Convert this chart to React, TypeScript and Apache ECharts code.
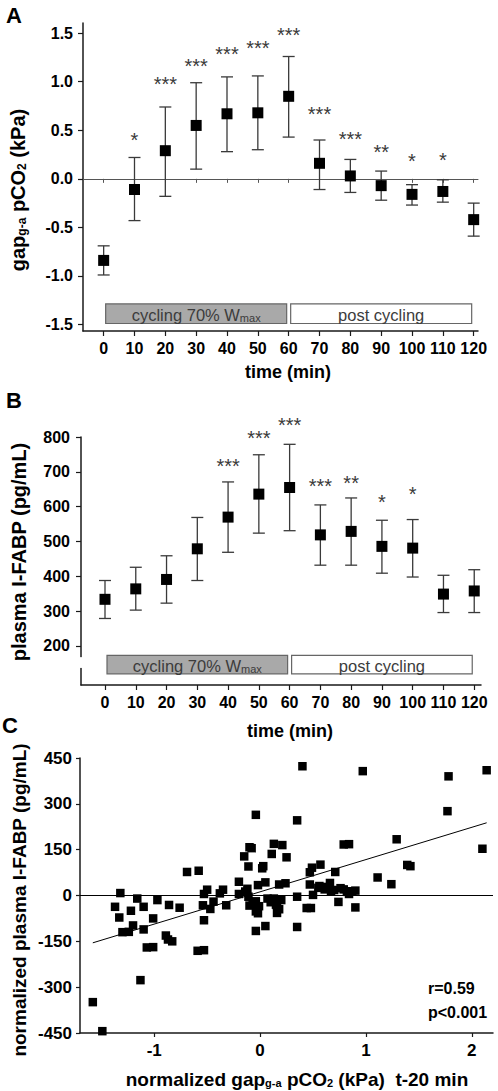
import React, { useEffect, useRef } from 'react';
import * as echarts from 'echarts';

const FONT = '"Liberation Sans", Arial, Helvetica, sans-serif';

// ---------- shared time axis ----------
const times = [0, 10, 20, 30, 40, 50, 60, 70, 80, 90, 100, 110, 120];

// ---------- panel A: gap g-a pCO2 (kPa) ----------
const gapMean = [-0.84, -0.11, 0.29, 0.55, 0.67, 0.68, 0.85, 0.16, 0.03, -0.07, -0.16, -0.13, -0.42];
const gapLow = [-0.99, -0.43, -0.18, 0.1, 0.28, 0.3, 0.43, -0.11, -0.14, -0.22, -0.27, -0.24, -0.59];
const gapHigh = [-0.69, 0.22, 0.74, 0.99, 1.05, 1.06, 1.26, 0.4, 0.2, 0.08, -0.06, -0.01, -0.25];
const gapStars = ['', '*', '***', '***', '***', '***', '***', '***', '***', '**', '*', '*', ''];
const gapStarLevel = [0, 0.44, 1.02, 1.2, 1.33, 1.39, 1.52, 0.71, 0.45, 0.32, 0.23, 0.24, 0];
const gapTicks = [-1.5, -1.0, -0.5, 0, 0.5, 1.0, 1.5];

// ---------- panel B: plasma I-FABP (pg/mL) ----------
const fabpMean = [334, 364, 391, 479, 570, 636, 655, 519, 529, 486, 481, 349, 358];
const fabpLow = [279, 303, 323, 388, 469, 524, 531, 432, 432, 409, 398, 296, 296];
const fabpHigh = [388, 426, 459, 569, 671, 749, 779, 605, 625, 561, 563, 403, 419];
const fabpStars = ['', '', '', '', '***', '***', '***', '***', '**', '*', '*', '', ''];
const fabpStarLevel = [0, 0, 0, 0, 728, 810, 846, 670, 680, 625, 647, 0, 0];
const fabpTicks = [200, 300, 400, 500, 600, 700, 800];
const fabpBreak = [137, 168];

// ---------- phases ----------
const phaseStart = [0, 60];
const phaseEnd = [60, 120];
const phaseLabels = ['{a|cycling 70% W}{b|max}', '{a|post cycling}'];
const phaseFills = ['#a9a9a9', '#ffffff'];

// ---------- panel C: scatter ----------
const scatterX = [
  -1.58, -1.49, -1.32, -1.37, -1.33, -1.3, -1.24, -1.22, -1.2, -1.16, -1.1, -1.1, -1.13, -1.07, -1.01, -1.01,
  -0.97, -0.89, -0.86, -0.87, -0.83, -0.76, -0.69, -0.58, -0.59, -0.53, -0.53, -0.5, -0.54, -0.53, -0.47, -0.44,
  -0.38, -0.35, -0.32, -0.2, -0.2, -0.15, -0.1, -0.08, -0.11, -0.14, -0.11, -0.1, -0.04, -0.04, -0.04, -0.04,
  0.02, 0.03, -0.02, 0.05, -0.01, 0.05, 0.07, 0.11, 0.13, 0.21, 0.13, 0.16, 0.16, 0.18, 0.2, 0.24, 0.25, 0.35,
  0.35, 0.35, 0.4, 0.44, 0.48, 0.47, 0.49, 0.47, 0.5, 0.57, 0.56, 0.61, 0.66, 0.67, 0.71, 0.74, 0.79, 0.84,
  0.79, 0.84, 0.9, 0.9, 0.97, 1.11, 1.24, 1.29, 1.39, 1.42, 1.77, 1.78, 2.1, 2.14,
  0.55, 0.63, 0.7, 0.76, 0.82, 0.87, -0.12, 0.1, 0.18, -0.07, -0.02, 0.15,
];
const scatterY = [
  -349, -444, 8, -37, -72, -120, -119, -50, -98, -10, -37, -111, -277, -170, -169, -75,
  -15, -131, -31, -144, -150, -40, 77, 81, -181, -179, 5, 19, -32, -81, -44, -20,
  7, 19, -32, 45, 5, 128, 158, 155, 95, 13, -4, -33, -19, -52, -116, 264,
  89, 96, 34, 43, -35, -100, -10, 136, 169, 165, -10, -32, -57, 36, -15, 40, 125, 246,
  -4, -103, 423, -41, -41, 76, 91, 36, 2, 101, 31, 20, 41, 14, 77, -21, 167, 168,
  20, 5, 16, -39, 407, 59, 37, 184, 100, 96, 276, 390, 153, 410,
  25, 28, 18, 24, 12, 14, 22, -22, -45, -28, -58, -30,
];
const fitSlope = 105.6;
const fitIntercept = 12;
const corrText = ['r=0.59', 'p<0.001'];
const scatterXTicks = [-1, 0, 1, 2];

const tickStyle = { fontFamily: FONT, fontWeight: 'bold' as const, color: '#000' };

function errorBars(capHalf: number) {
  return (params: any, api: any) => {
    const x = api.value(0);
    const lo = api.coord([x, api.value(1)]);
    const hi = api.coord([x, api.value(2)]);
    const style = { stroke: '#3a3a3a', lineWidth: 1.3 };
    return {
      type: 'group',
      children: [
        { type: 'line', shape: { x1: lo[0], y1: lo[1], x2: hi[0], y2: hi[1] }, style },
        { type: 'line', shape: { x1: hi[0] - capHalf, y1: hi[1], x2: hi[0] + capHalf, y2: hi[1] }, style },
        { type: 'line', shape: { x1: lo[0] - capHalf, y1: lo[1], x2: lo[0] + capHalf, y2: lo[1] }, style },
      ],
    };
  };
}

function starRender(labels: string[]) {
  return (params: any, api: any) => {
    const p = api.coord([api.value(0), api.value(1)]);
    return {
      type: 'text',
      x: p[0],
      y: p[1] + 4,
      style: {
        text: labels[api.value(2)],
        fontFamily: FONT,
        fontSize: 20,
        fill: '#3a3a3a',
        align: 'center',
        verticalAlign: 'middle',
      },
    };
  };
}

function phaseRender(yBottom: number, yTop: number) {
  return (params: any, api: any) => {
    const i = params.dataIndex;
    const a = api.coord([api.value(0), yTop]);
    const b = api.coord([api.value(1), yBottom]);
    const x0 = a[0] + 2;
    const x1 = b[0] - 2;
    return {
      type: 'group',
      children: [
        {
          type: 'rect',
          shape: { x: x0, y: a[1], width: x1 - x0, height: b[1] - a[1] },
          style: { fill: phaseFills[i], stroke: '#666', lineWidth: 1.2 },
        },
        {
          type: 'text',
          x: (x0 + x1) / 2,
          y: (a[1] + b[1]) / 2,
          style: {
            text: phaseLabels[i],
            align: 'center',
            verticalAlign: 'middle',
            rich: {
              a: { fontFamily: FONT, fontSize: 16.5, fill: '#3c3c3c', verticalAlign: 'bottom', lineHeight: 19 },
              b: { fontFamily: FONT, fontSize: 11, fill: '#3c3c3c', verticalAlign: 'bottom', lineHeight: 16 },
            },
          },
        },
      ],
    };
  };
}

function titleText(x: number, y: number, text: string, size: number, rotate: boolean, sub = 12): any {
  return {
    type: 'text',
    x,
    y,
    rotation: rotate ? Math.PI / 2 : 0,
    style: {
      text,
      align: 'center',
      verticalAlign: 'middle',
      textAlign: 'center',
      textVerticalAlign: 'middle',
      rich: {
        m: { fontFamily: FONT, fontWeight: 'bold', fontSize: size, fill: '#000', verticalAlign: 'bottom', lineHeight: size + 4 },
        s: { fontFamily: FONT, fontWeight: 'bold', fontSize: sub, fill: '#000', verticalAlign: 'bottom', lineHeight: size },
      },
    },
  };
}

function plainText(x: number, y: number, text: string, size: number): any {
  return {
    type: 'text',
    x,
    y,
    style: {
      text,
      fontFamily: FONT,
      fontWeight: 'bold',
      fontSize: size,
      fill: '#000',
      textAlign: 'left',
      textVerticalAlign: 'middle',
      align: 'left',
      verticalAlign: 'middle',
    },
  };
}

const axisLineStyle = { color: '#1a1a1a', width: 1.5 };

export default function App() {
  const ref = useRef<HTMLDivElement>(null);
  useEffect(() => {
    if (!ref.current) return;
    const chart = echarts.init(ref.current, null, { renderer: 'svg' });

    const timeAxisBase = (gridIndex: number, min: number, max: number) => ({
      type: 'value' as const,
      gridIndex,
      min,
      max,
      position: 'bottom' as const,
      axisLine: { show: true, onZero: false, lineStyle: axisLineStyle },
      axisTick: { show: true, inside: false, length: 5, customValues: times, lineStyle: { color: '#1a1a1a', width: 1.2 } },
      axisLabel: { show: true, customValues: times, fontSize: 16, margin: 9, ...tickStyle },
      splitLine: { show: false },
    });

    const xMinC = Math.min(...scatterX);
    const xMaxC = Math.max(...scatterX);

    const option: any = {
      animation: false,
      backgroundColor: '#fff',
      grid: [
        { left: 83, top: 23, width: 395, height: 308, outerBoundsMode: 'none', containLabel: false },
        { left: 81, top: 437, width: 400, height: 248, outerBoundsMode: 'none', containLabel: false },
        { left: 80, top: 758, width: 413, height: 275, outerBoundsMode: 'none', containLabel: false },
      ],
      xAxis: [
        timeAxisBase(0, -6.7, 121.4),
        {
          type: 'value',
          gridIndex: 0,
          min: -6.7,
          max: 121.4,
          position: 'bottom',
          axisLine: { show: true, onZero: true, lineStyle: { color: '#555', width: 1 } },
          axisTick: { show: true, inside: false, length: 4, customValues: times, lineStyle: { color: '#555', width: 1 } },
          axisLabel: { show: false },
          splitLine: { show: false },
        },
        timeAxisBase(1, -7.8, 122.2),
        {
          type: 'value',
          gridIndex: 2,
          min: -1.701,
          max: 2.2,
          position: 'bottom',
          axisLine: { show: true, onZero: false, lineStyle: axisLineStyle },
          axisTick: { show: true, inside: false, length: 4, customValues: scatterXTicks, lineStyle: { color: '#1a1a1a', width: 1.2 } },
          axisLabel: { show: true, customValues: scatterXTicks, fontSize: 17, margin: 9, ...tickStyle },
          splitLine: { show: false },
        },
      ],
      yAxis: [
        {
          type: 'value',
          gridIndex: 0,
          min: -1.567,
          max: 1.605,
          axisLine: { show: true, onZero: false, lineStyle: axisLineStyle },
          axisTick: { show: true, inside: false, length: 5, customValues: gapTicks, lineStyle: { color: '#1a1a1a', width: 1.2 } },
          axisLabel: {
            show: true,
            customValues: gapTicks,
            fontSize: 16,
            margin: 10,
            formatter: (v: number) => v.toFixed(1),
            ...tickStyle,
          },
          splitLine: { show: false },
        },
        {
          type: 'value',
          gridIndex: 1,
          min: 88,
          max: 800,
          axisLine: { show: true, onZero: false, lineStyle: axisLineStyle },
          axisTick: { show: true, inside: false, length: 5, customValues: fabpTicks, lineStyle: { color: '#1a1a1a', width: 1.2 } },
          axisLabel: { show: true, customValues: fabpTicks, fontSize: 16, margin: 11, ...tickStyle },
          splitLine: { show: false },
        },
        {
          type: 'value',
          gridIndex: 2,
          min: -450,
          max: 450,
          interval: 150,
          axisLine: { show: true, onZero: false, lineStyle: axisLineStyle },
          axisTick: { show: true, inside: false, length: 4, lineStyle: { color: '#1a1a1a', width: 1.2 } },
          axisLabel: { show: true, fontSize: 17, margin: 8, ...tickStyle },
          splitLine: { show: false },
        },
      ],
      graphic: [
        plainText(6, 15, 'A', 22),
        plainText(6, 400, 'B', 22),
        plainText(2, 725, 'C', 22),
        titleText(15.5, 190, '{m|gap}{s|g-a}{m| pCO}{s|2}{m| (kPa)}', 20, true),
        titleText(288, 370, '{m|time (min)}', 18, false),
        titleText(17, 552, '{m|plasma I-FABP (pg/mL)}', 20, true),
        titleText(290, 729, '{m|time (min)}', 18, false),
        titleText(17, 900, '{m|normalized plasma I-FABP (pg/mL)}', 19, true),
        titleText(297, 1077, '{m|normalized gap}{s|g-a}{m| pCO}{s|2}{m| (kPa)  t-20 min}', 19, false, 11),
        plainText(428, 988, corrText[0], 16),
        plainText(428, 1012, corrText[1], 16),
      ],
      series: [
        // ---- Panel A ----
        {
          type: 'custom',
          xAxisIndex: 0,
          yAxisIndex: 0,
          renderItem: phaseRender(-1.49, -1.288),
          data: phaseStart.map((s, i) => [s, phaseEnd[i]]),
          z: 3,
        },
        {
          type: 'custom',
          xAxisIndex: 0,
          yAxisIndex: 0,
          renderItem: errorBars(6),
          data: times.map((t, i) => [t, gapLow[i], gapHigh[i]]),
          z: 4,
        },
        {
          type: 'scatter',
          xAxisIndex: 0,
          yAxisIndex: 0,
          symbol: 'rect',
          symbolSize: 11,
          itemStyle: { color: '#000', opacity: 1 },
          data: times.map((t, i) => [t, gapMean[i]]),
          z: 5,
        },
        {
          type: 'custom',
          xAxisIndex: 0,
          yAxisIndex: 0,
          renderItem: starRender(gapStars),
          data: times.map((t, i) => [t, gapStarLevel[i], i]).filter((d) => gapStars[d[2]] !== ''),
          z: 6,
        },
        // ---- Panel B ----
        {
          type: 'custom',
          xAxisIndex: 2,
          yAxisIndex: 1,
          renderItem: phaseRender(120, 173),
          data: phaseStart.map((s, i) => [s, phaseEnd[i]]),
          z: 3,
        },
        {
          type: 'custom',
          xAxisIndex: 2,
          yAxisIndex: 1,
          renderItem: (params: any, api: any) => {
            const lo = api.coord([-7.8, api.value(0)]);
            const hi = api.coord([-7.8, api.value(1)]);
            return {
              type: 'rect',
              shape: { x: lo[0] - 4, y: hi[1], width: 8, height: lo[1] - hi[1] },
              style: { fill: '#fff' },
            };
          },
          data: [[fabpBreak[0], fabpBreak[1]]],
          z: 10,
        },
        {
          type: 'custom',
          xAxisIndex: 2,
          yAxisIndex: 1,
          renderItem: errorBars(6),
          data: times.map((t, i) => [t, fabpLow[i], fabpHigh[i]]),
          z: 4,
        },
        {
          type: 'scatter',
          xAxisIndex: 2,
          yAxisIndex: 1,
          symbol: 'rect',
          symbolSize: 11,
          itemStyle: { color: '#000', opacity: 1 },
          data: times.map((t, i) => [t, fabpMean[i]]),
          z: 5,
        },
        {
          type: 'custom',
          xAxisIndex: 2,
          yAxisIndex: 1,
          renderItem: starRender(fabpStars),
          data: times.map((t, i) => [t, fabpStarLevel[i], i]).filter((d) => fabpStars[d[2]] !== ''),
          z: 6,
        },
        // ---- Panel C ----
        {
          type: 'scatter',
          xAxisIndex: 3,
          yAxisIndex: 2,
          symbol: 'rect',
          symbolSize: 8.5,
          itemStyle: { color: '#000', opacity: 1 },
          data: scatterX.map((x, i) => [x, scatterY[i]]),
          markLine: {
            silent: true,
            symbol: 'none',
            label: { show: false },
            lineStyle: { color: '#000', width: 1, type: 'solid' },
            data: [{ yAxis: 0 }],
          },
          z: 5,
        },
        {
          type: 'line',
          xAxisIndex: 3,
          yAxisIndex: 2,
          symbol: 'none',
          lineStyle: { color: '#000', width: 1 },
          data: [
            [xMinC, fitIntercept + fitSlope * xMinC],
            [xMaxC, fitIntercept + fitSlope * xMaxC],
          ],
          z: 4,
        },
      ],
    };
    chart.setOption(option);
    return () => chart.dispose();
  }, []);
  return (
    <div
      ref={ref}
      style={{ position: 'absolute', left: 0, top: 0, width: 498, height: 1091, background: '#fff' }}
    />
  );
}
